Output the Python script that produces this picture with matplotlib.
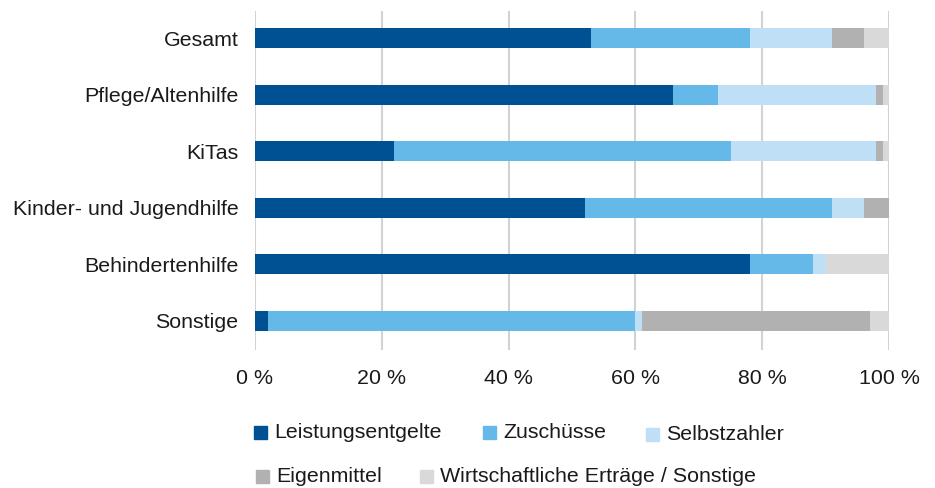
import numpy as np
import matplotlib
matplotlib.use("Agg")
import matplotlib.pyplot as plt
from matplotlib.patches import Rectangle

plt.rcParams['font.family'] = ['Liberation Sans', 'DejaVu Sans']

# data (shares in %)
categories = ['Gesamt', 'Pflege/Altenhilfe', 'KiTas', 'Kinder- und Jugendhilfe',
              'Behindertenhilfe', 'Sonstige']
series_names = ['Leistungsentgelte', 'Zuschüsse', 'Selbstzahler', 'Eigenmittel',
                'Wirtschaftliche Erträge / Sonstige']
leistungsentgelte = [53, 66, 22, 52, 78, 2]
zuschuesse = [25, 7, 53, 39, 10, 58]
selbstzahler = [13, 25, 23, 5, 2, 1]
eigenmittel = [5, 1, 1, 4, 0, 36]
wirtschaftlich = [4, 1, 1, 0, 10, 3]
xticks = [0, 20, 40, 60, 80, 100]

colors = ['#005194', '#64b9e9', '#bedff6', '#b1b1b1', '#d9d9d9']
values = [leistungsentgelte, zuschuesse, selbstzahler, eigenmittel, wirtschaftlich]

W, H = 935, 488
fig = plt.figure(figsize=(W / 100, H / 100), dpi=100)
ax = fig.add_axes([255 / W, 1 - 350 / H, (889 - 255) / W, (350 - 11) / H])

y = np.arange(len(categories))
left = np.zeros(len(categories))
for vals, col, name in zip(values, colors, series_names):
    ax.barh(y, vals, left=left, height=0.355, color=col, label=name, zorder=3)
    left += np.array(vals)

ax.set_xlim(0, 100)
ax.set_ylim(5.52, -0.485)
ax.set_yticks(y)
ax.set_yticklabels(categories, fontsize=15.4, color='#1a1a1a')
ax.set_xticks(xticks)
ax.set_xticklabels([f'{t} %' for t in xticks], fontsize=15.4, color='#1a1a1a')
ax.tick_params(axis='y', length=0, pad=12)
ax.tick_params(axis='x', length=0, pad=14)
ax.grid(axis='x', color='#d2d2d2', linewidth=1.5, zorder=0)
for s in ax.spines.values():
    s.set_visible(False)

# legend drawn by hand (uneven spacing like the original)
leg_pos = [(254, 432), (483, 432), (646, 434), (256, 476), (420, 476)]
sq = 13
for (px, py), col, name in zip(leg_pos, colors, series_names):
    fig.add_artist(Rectangle((px / W, 1 - (py + sq / 2) / H), sq / W, sq / H,
                             transform=fig.transFigure, color=col))
    fig.text((px + sq + 7) / W, 1 - py / H, name, fontsize=15.4, color='#1a1a1a',
             va='center', ha='left')

fig.savefig('out.png', dpi=100)
